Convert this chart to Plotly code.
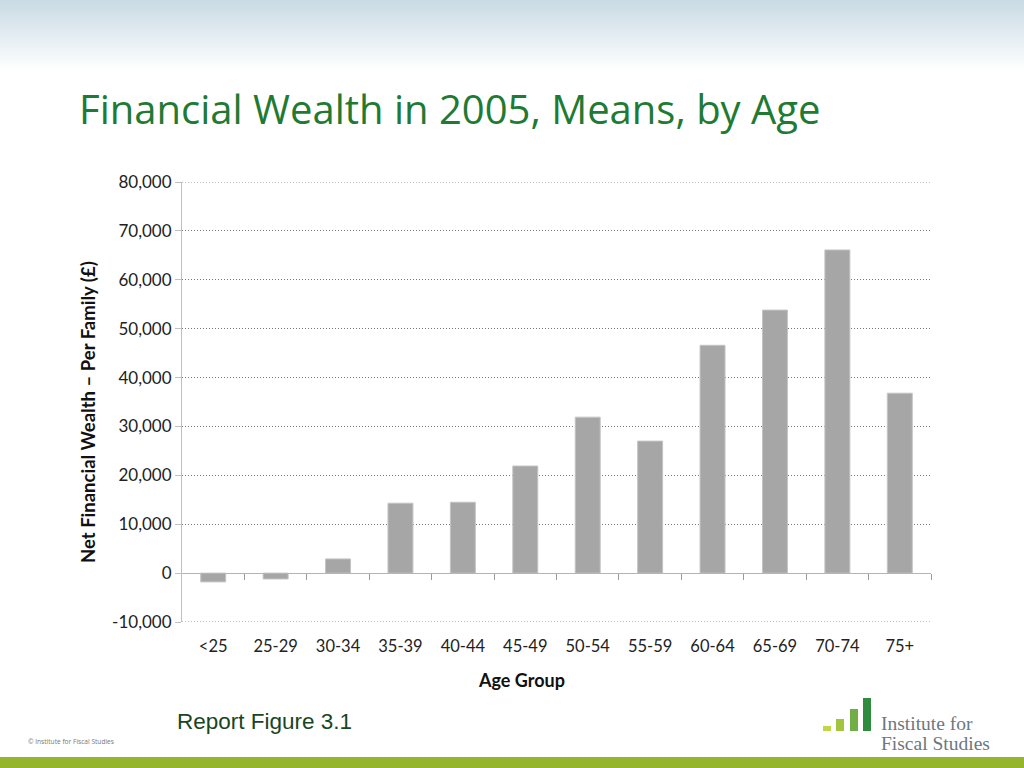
import plotly.graph_objects as go

# ---- data ----
age_groups = ["<25", "25-29", "30-34", "35-39", "40-44", "45-49",
              "50-54", "55-59", "60-64", "65-69", "70-74", "75+"]
mean_wealth = [-1800, -1200, 2900, 14300, 14500, 21900,
               31900, 27000, 46600, 53800, 66100, 36800]
y_ticks = [-10000, 0, 10000, 20000, 30000, 40000, 50000, 60000, 70000, 80000]
y_tick_text = ["-10,000", "0", "10,000", "20,000", "30,000", "40,000",
               "50,000", "60,000", "70,000", "80,000"]
y_range = [-10000, 80000]

W, H = 1024, 768
L, R, T, B = 182, 93, 182, 146
pw, ph = W - L - R, H - T - B


def px_x(x):
    return (x - L) / pw


def px_y(y):
    return (H - B - y) / ph


fig = go.Figure()
fig.add_trace(go.Bar(
    x=age_groups, y=mean_wealth,
    marker=dict(color="#a6a6a6", line=dict(color="#c4c4c4", width=1)),
    hoverinfo="x+y", showlegend=False,
))

# boundaries between categories for the zero-line ticks
boundaries = [i + 0.5 for i in range(len(age_groups))]
zero_pos = (0 - y_range[0]) / (y_range[1] - y_range[0])

shapes = []
# header gradient
top_col = (201, 219, 228)
n = 36
for i in range(n):
    f = i / (n - 1)
    c = tuple(int(round(top_col[k] + (255 - top_col[k]) * f)) for k in range(3))
    shapes.append(dict(type="rect", xref="paper", yref="paper",
                       x0=px_x(0), x1=px_x(W),
                       y0=px_y(i * 2 + 3), y1=px_y(i * 2),
                       line=dict(width=0), fillcolor="rgb(%d,%d,%d)" % c,
                       layer="below"))
# gridlines at the two ends of the value axis (plotly drops them at the edges)
for yv in (y_ticks[0], y_ticks[-1]):
    shapes.append(dict(type="line", xref="paper", yref="y", x0=0, x1=1,
                       y0=yv, y1=yv, layer="below",
                       line=dict(color="#7a7a7a", width=1, dash="1px,2px")))
# bottom green band
shapes.append(dict(type="rect", xref="paper", yref="paper",
                   x0=px_x(0), x1=px_x(W), y0=px_y(H), y1=px_y(757),
                   line=dict(width=0), fillcolor="#95b62c", layer="above"))
# logo bars
logo = [(823, 831, 726, "#c2d545"), (836, 844, 719, "#a3c43f"),
        (850, 858, 709, "#72ad47"), (863, 871, 698, "#2f8c3f")]
for x0, x1, ytop, col in logo:
    shapes.append(dict(type="rect", xref="paper", yref="paper",
                       x0=px_x(x0), x1=px_x(x1), y0=px_y(731), y1=px_y(ytop),
                       line=dict(width=0), fillcolor=col))

annotations = [
    dict(text="Financial Wealth in 2005, Means, by Age", xref="paper", yref="paper",
         x=px_x(77), y=px_y(109), xanchor="left", yanchor="middle",
         showarrow=False, font=dict(family="Open Sans", size=40, color="#1f7a33")),
    dict(text="<b>Net Financial Wealth – Per Family (£)</b>", xref="paper", yref="paper",
         x=px_x(88), y=px_y(412), textangle=-90,
         xanchor="center", yanchor="middle", showarrow=False,
         font=dict(family="Lato", size=18.5, color="#111111")),
    dict(text="<b>Age Group</b>", xref="paper", yref="paper",
         x=px_x(521), y=px_y(680), xanchor="center", yanchor="middle",
         showarrow=False, font=dict(family="Lato", size=18, color="#111111")),
    dict(text="Report Figure 3.1", xref="paper", yref="paper",
         x=px_x(175), y=px_y(721), xanchor="left", yanchor="middle",
         showarrow=False, font=dict(family="Liberation Sans", size=22.5, color="#18461f")),
    dict(text="© Institute for Fiscal Studies", xref="paper", yref="paper",
         x=px_x(26), y=px_y(741), xanchor="left", yanchor="middle",
         showarrow=False, font=dict(family="Open Sans", size=6.6, color="#777777")),
    dict(text="Institute for", xref="paper", yref="paper",
         x=px_x(879), y=px_y(723), xanchor="left", yanchor="middle",
         showarrow=False, font=dict(family="Liberation Serif", size=19.5, color="#6b7880")),
    dict(text="Fiscal Studies", xref="paper", yref="paper",
         x=px_x(879), y=px_y(743), xanchor="left", yanchor="middle",
         showarrow=False, font=dict(family="Liberation Serif", size=19.5, color="#6b7880")),
]

fig.update_layout(
    width=W, height=H,
    margin=dict(l=L, r=R, t=T, b=B, pad=0),
    paper_bgcolor="white", plot_bgcolor="white",
    bargap=0.6,
    shapes=shapes,
    annotations=annotations,
    xaxis=dict(type="category", range=[-0.5, len(age_groups) - 0.5],
               showline=False, showgrid=False, ticks="", zeroline=False,
               ticklabelstandoff=12,
               tickfont=dict(family="Lato", size=16.5, color="#222222")),
    xaxis2=dict(overlaying="x", anchor="free", position=zero_pos,
                range=[-0.5, len(age_groups) - 0.5], showgrid=False, zeroline=False,
                showline=True, linecolor="#b5b5b5", linewidth=1,
                tickmode="array", tickvals=boundaries, ticks="outside",
                ticklen=6, tickcolor="#9a9a9a", showticklabels=False),
    yaxis=dict(range=y_range, tickmode="array", tickvals=y_ticks, ticktext=y_tick_text,
               showgrid=True, gridcolor="#7a7a7a", griddash="1px,2px", gridwidth=1,
               zeroline=False, showline=True, linecolor="#c0c0c0", linewidth=1,
               ticks="outside", ticklen=6, tickcolor="#c0c0c0",
               tickfont=dict(family="Lato", size=17, color="#222222")),
)

# invisible trace so the overlay axis is drawn
fig.add_trace(go.Scatter(x=[0], y=[0], xaxis="x2", mode="markers",
                         marker=dict(opacity=0), showlegend=False, hoverinfo="skip"))

fig.write_html("out.html", config={"displayModeBar": False},
               post_script="document.body.style.margin='0';document.body.style.overflow='hidden';")
